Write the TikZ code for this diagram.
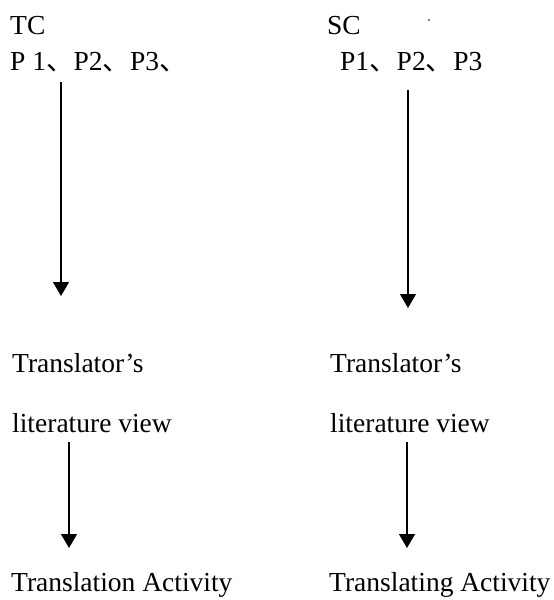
\documentclass[tikz,border=0pt]{standalone}
\usepackage{fontspec}
\setmainfont{Liberation Serif}
\newfontfamily\cjk{Noto Sans CJK SC}
\usetikzlibrary{arrows.meta}
\newcommand{\dun}{{\cjk 、}}
\begin{document}
\begin{tikzpicture}[x=1pt,y=-1pt,
  lbl/.style={anchor=base west,inner sep=0pt,font=\fontsize{27.5}{32}\selectfont},
  flow/.style={line width=1.2pt,-{Triangle[width=16pt,length=14pt]}}]
\useasboundingbox (0,0) rectangle (554,600);
\node[lbl] (tc) at (10,34) {TC};
\node[lbl] (pl) at (10,70) {P 1\dun P2\dun P3\dun};
\node[lbl] (sc) at (327,34) {SC};
\node[lbl] (pr) at (340,70) {P1\dun P2\dun P3};
\node[lbl] (tl) at (12,372) {Translator’s};
\node[lbl] (ll) at (12,432) {literature view};
\node[lbl] (al) at (11,591) {Translation Activity};
\node[lbl] (tr) at (330,372) {Translator’s};
\node[lbl] (lr) at (330,432) {literature view};
\node[lbl] (ar) at (329,591) {Translating Activity};
\fill (429,20) circle (0.8);
\coordinate (l1s) at (61,82);  \coordinate (l1e) at (61,296);
\coordinate (r1s) at (408,90); \coordinate (r1e) at (408,308);
\coordinate (l2s) at (69,442); \coordinate (l2e) at (69,548);
\coordinate (r2s) at (407,442); \coordinate (r2e) at (407,548);
\draw[flow] (l1s) -- (l1e);
\draw[flow] (r1s) -- (r1e);
\draw[flow] (l2s) -- (l2e);
\draw[flow] (r2s) -- (r2e);
\end{tikzpicture}
\end{document}
